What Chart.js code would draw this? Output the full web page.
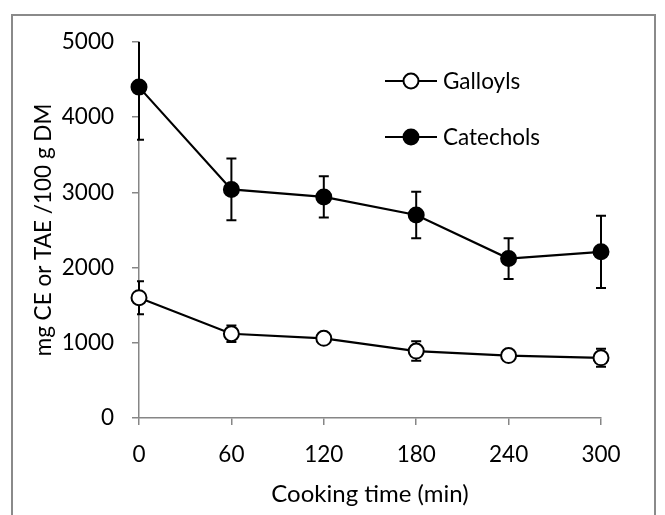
<!DOCTYPE html>
<html>
<head>
<meta charset="utf-8">
<script src="https://cdn.jsdelivr.net/npm/chart.js@4"></script>
<style>
  html, body { margin: 0; padding: 0; background: #ffffff; }
  #wrap { position: relative; width: 665px; height: 515px; overflow: hidden; }
  #frame { position: absolute; left: 11px; top: 14px; width: 645px; height: 520px;
           border: 2px solid #8a8a8a; box-sizing: border-box; }
  #chart { position: absolute; left: 0; top: 0; }
</style>
</head>
<body>
<div id="wrap">
  <div id="frame"></div>
  <canvas id="chart" width="665" height="515"></canvas>
</div>
<script>
// Cooking time (min)
const categories = ['0', '60', '120', '180', '240', '300'];

// Galloyls (mg TAE /100 g DM) and standard deviations
const galloyls = [1600, 1120, 1060, 890, 830, 800];
const galloylsErr = [220, 110, 50, 130, 40, 120];

// Catechols (mg CE /100 g DM) and standard deviations
const catechols = [4400, 3040, 2940, 2700, 2120, 2210];
const catecholsErr = [700, 410, 275, 310, 270, 480];

const yTicks = [0, 1000, 2000, 3000, 4000, 5000];

const FONT = 'Lato, "Open Sans", sans-serif';
const FONT_SIZE = 22.5;
const AXIS_GREY = '#868686';

// Vertical error bars with end caps, drawn under the lines and markers
const errorBars = {
  id: 'errorBars',
  beforeDatasetsDraw(chart) {
    const { ctx, chartArea, scales } = chart;
    ctx.save();
    ctx.beginPath();
    ctx.rect(chartArea.left - 2, chartArea.top, chartArea.right - chartArea.left + 10, chartArea.bottom - chartArea.top);
    ctx.clip();
    ctx.strokeStyle = '#000';
    ctx.lineWidth = 2;
    chart.data.datasets.forEach((ds, i) => {
      const meta = chart.getDatasetMeta(i);
      meta.data.forEach((pt, j) => {
        const v = ds.data[j], e = ds.errors[j];
        const yHi = scales.y.getPixelForValue(v + e);
        const yLo = scales.y.getPixelForValue(v - e);
        const x = pt.x, cap = 5;
        ctx.beginPath();
        ctx.moveTo(x, yHi); ctx.lineTo(x, yLo);
        ctx.moveTo(x - cap, yHi); ctx.lineTo(x + cap, yHi);
        ctx.moveTo(x - cap, yLo); ctx.lineTo(x + cap, yLo);
        ctx.stroke();
      });
    });
    ctx.restore();
  }
};

// Legend inside the plot: line segment with the series marker, then the name
const insideLegend = {
  id: 'insideLegend',
  afterDraw(chart) {
    const { ctx } = chart;
    const x0 = 385, x1 = 437, rows = [81, 137];
    ctx.save();
    chart.data.datasets.forEach((ds, i) => {
      const y = rows[i];
      ctx.strokeStyle = ds.borderColor;
      ctx.lineWidth = ds.borderWidth;
      ctx.beginPath(); ctx.moveTo(x0, y); ctx.lineTo(x1, y); ctx.stroke();
      ctx.beginPath();
      ctx.arc((x0 + x1) / 2, y, ds.pointRadius, 0, Math.PI * 2);
      ctx.fillStyle = ds.pointBackgroundColor;
      ctx.fill();
      ctx.lineWidth = ds.pointBorderWidth;
      ctx.strokeStyle = ds.pointBorderColor;
      ctx.stroke();
      ctx.fillStyle = '#000';
      ctx.font = FONT_SIZE + 'px ' + FONT;
      ctx.textBaseline = 'middle';
      ctx.textAlign = 'left';
      ctx.fillText(ds.label, x1 + 6, y + 1);
    });
    ctx.restore();
  }
};

new Chart(document.getElementById('chart'), {
  type: 'line',
  data: {
    labels: categories,
    datasets: [
      {
        label: 'Galloyls',
        data: galloyls,
        errors: galloylsErr,
        borderColor: '#000',
        borderWidth: 2.2,
        pointRadius: 7.5,
        pointHoverRadius: 7.5,
        pointBackgroundColor: '#fff',
        pointBorderColor: '#000',
        pointBorderWidth: 2,
        tension: 0
      },
      {
        label: 'Catechols',
        data: catechols,
        errors: catecholsErr,
        borderColor: '#000',
        borderWidth: 2.2,
        pointRadius: 7.5,
        pointHoverRadius: 7.5,
        pointBackgroundColor: '#000',
        pointBorderColor: '#000',
        pointBorderWidth: 2,
        tension: 0
      }
    ]
  },
  options: {
    responsive: false,
    animation: false,
    events: [],
    layout: { padding: { left: 0, right: 64, top: 42, bottom: 0 } },
    plugins: { legend: { display: false }, tooltip: { enabled: false } },
    scales: {
      x: {
        type: 'category',
        offset: false,
        grid: { display: true, drawOnChartArea: false, drawTicks: true, tickLength: 7, color: AXIS_GREY, lineWidth: 1.5 },
        border: { display: true, color: AXIS_GREY, width: 1.5 },
        ticks: { color: '#000', font: { family: FONT, size: FONT_SIZE }, padding: 16, maxRotation: 0 },
        title: { display: true, text: 'Cooking time (min)', color: '#000', font: { family: FONT, size: 24 }, padding: { top: 0, bottom: 6 } },
        afterFit(scale) { scale.height = 97; }
      },
      y: {
        min: 0,
        max: 5000,
        afterBuildTicks(scale) { scale.ticks = yTicks.map(v => ({ value: v })); },
        grid: { display: true, drawOnChartArea: false, drawTicks: true, tickLength: 7, color: AXIS_GREY, lineWidth: 1.5 },
        border: { display: true, color: AXIS_GREY, width: 1.5 },
        ticks: { color: '#000', font: { family: FONT, size: FONT_SIZE }, padding: 18, callback: v => String(v) },
        title: { display: true, text: 'mg CE or TAE /100 g DM', color: '#000', font: { family: FONT, size: FONT_SIZE }, padding: { top: 30, bottom: 0 } },
        afterFit(scale) { scale.width = 139; }
      }
    }
  },
  plugins: [errorBars, insideLegend]
});
</script>
</body>
</html>
